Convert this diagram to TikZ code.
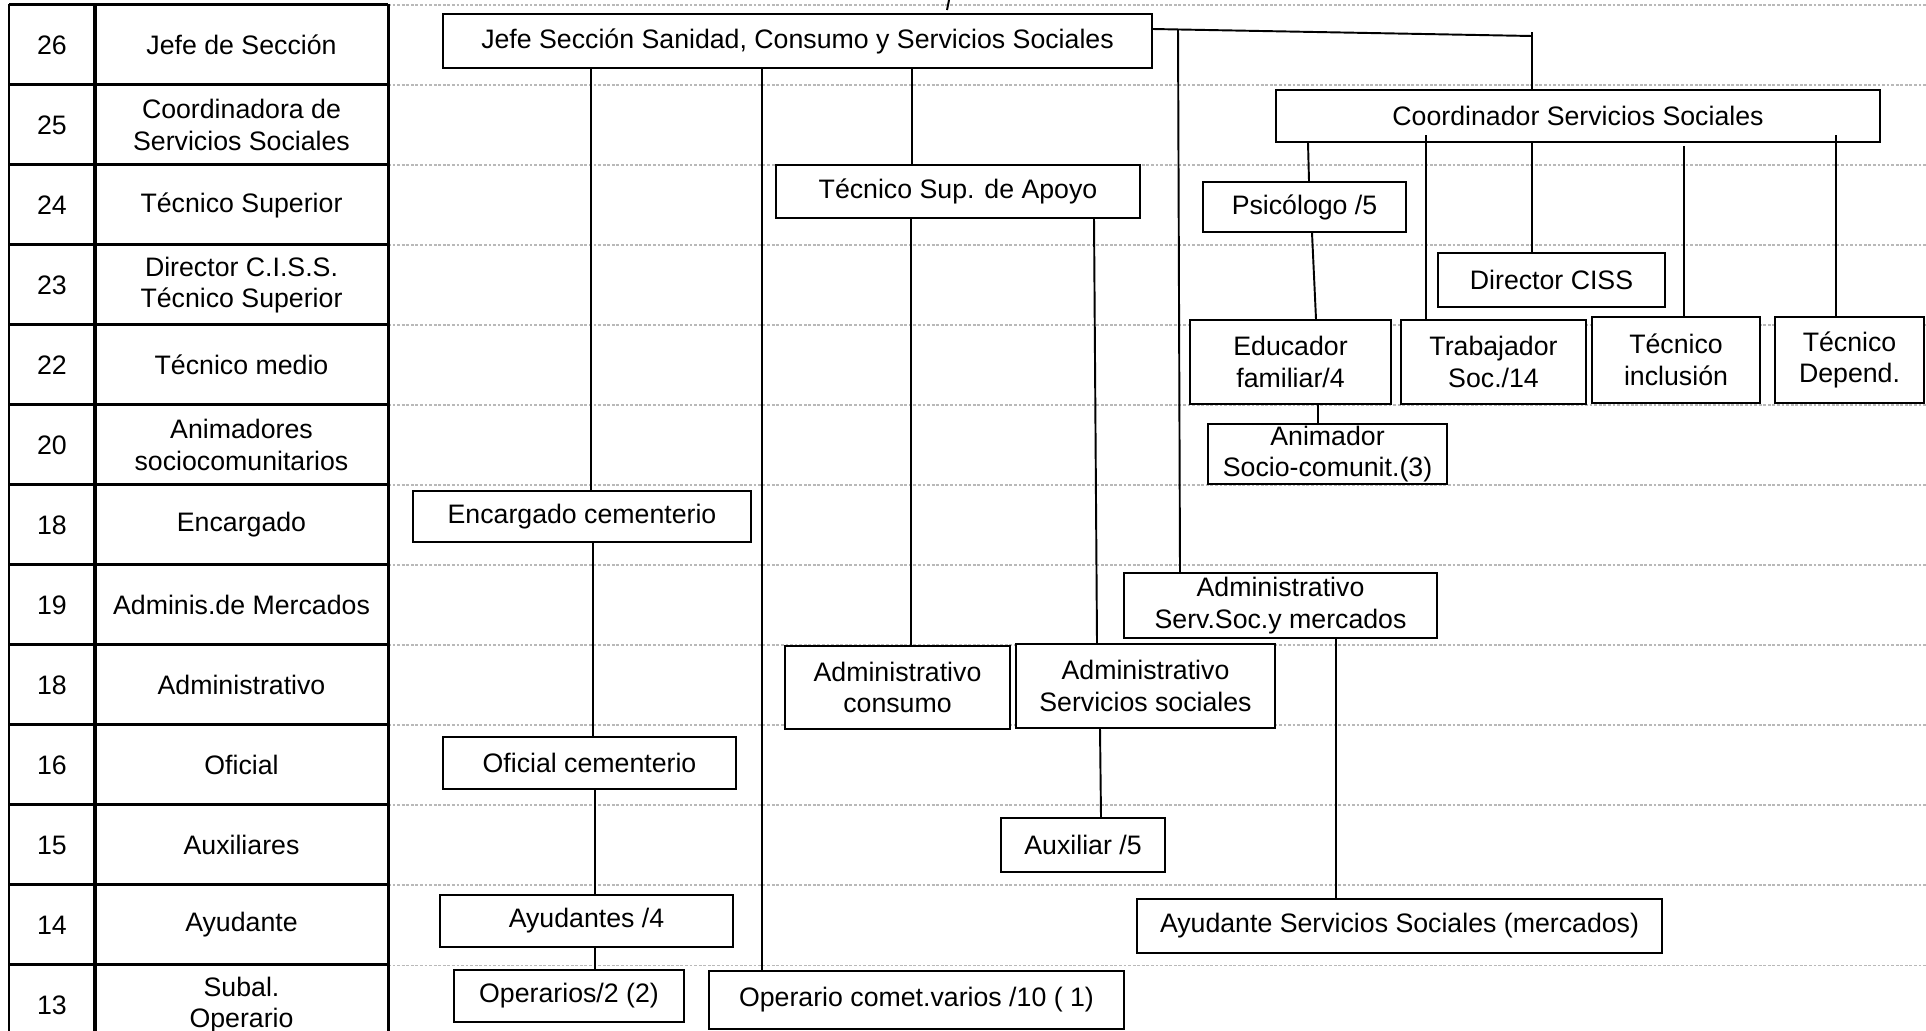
\documentclass[tikz,border=0pt]{standalone}
\usepackage{fontspec}
\setmainfont{Liberation Sans}
\begin{document}
\begin{tikzpicture}[yscale=-1,
  font=\fontsize{7.6}{9.0}\selectfont,
  box/.style={draw, fill=white, line width=0.55pt, inner sep=0pt, align=center},
  link/.style={line width=0.55pt},
  grid/.style={gray!55, line width=0.3pt, dash pattern=on 0.8pt off 0.5pt},
  tab/.style={line width=0.85pt}]
\useasboundingbox (0,0) rectangle (19.26,10.30);
\clip (0,0) rectangle (19.26,10.30);

% rejilla de niveles
\foreach \i in {0,...,12}{
\draw[grid] (3.88,0.05+0.8*\i)--(19.26,0.05+0.8*\i);
}

% tabla de niveles
\foreach \i in {0,...,13}{
\draw[tab] (0.09,0.04+0.8*\i)--(3.88,0.04+0.8*\i);
}
\draw[tab] (0.09,0.04)--(0.09,10.44);
\draw[tab,line width=1.3pt] (0.95,0.04)--(0.95,10.44);
\draw[tab] (3.88,0.04)--(3.88,10.44);
\foreach \n/\t [count=\i from 0] in {26/Jefe de Sección, 25/Coordinadora de\\Servicios Sociales,
  24/Técnico Superior, 23/Director C.I.S.S.\\Técnico Superior, 22/Técnico medio,
  20/Animadores\\sociocomunitarios, 18/Encargado, 19/Adminis.de Mercados,
  18/Administrativo, 16/Oficial, 15/Auxiliares, 14/Ayudante, 13/Subal.\\Operario}{
\node (num\i) at (0.52,0.45+0.8*\i) {\n};
\node[align=center] (cat\i) at (2.415,0.45+0.8*\i) {\t};
}

% puestos
\node[box, minimum width=7.09cm, minimum height=0.54cm] (jefe) at (7.975,0.41) {Jefe Sección Sanidad, Consumo y Servicios Sociales};
\node[box, minimum width=3.64cm, minimum height=0.53cm] (tsa) at (9.58,1.915) {Técnico Sup. de Apoyo};
\node[box, minimum width=6.04cm, minimum height=0.52cm] (coord) at (15.78,1.16) {Coordinador Servicios Sociales};
\node[box, minimum width=2.03cm, minimum height=0.50cm] (psi) at (13.045,2.07) {Psicólogo /5};
\node[box, minimum width=2.27cm, minimum height=0.54cm] (dir) at (15.515,2.80) {Director CISS};
\node[box, minimum width=2.01cm, minimum height=0.84cm] (edu) at (12.905,3.62) {Educador\\familiar/4};
\node[box, minimum width=1.85cm, minimum height=0.84cm] (trab) at (14.935,3.62) {Trabajador\\Soc./14};
\node[box, minimum width=1.68cm, minimum height=0.86cm] (tinc) at (16.76,3.60) {Técnico\\inclusión};
\node[box, minimum width=1.49cm, minimum height=0.86cm] (tdep) at (18.495,3.60) {Técnico\\Depend.};
\node[box, minimum width=2.39cm, minimum height=0.60cm] (anim) at (13.275,4.54) {Animador\\Socio-comunit.(3)};
\node[box, minimum width=3.38cm, minimum height=0.51cm] (enc) at (5.82,5.165) {Encargado cementerio};
\node[box, minimum width=3.13cm, minimum height=0.65cm] (asm) at (12.805,6.055) {Administrativo\\Serv.Soc.y mercados};
\node[box, minimum width=2.25cm, minimum height=0.83cm] (acons) at (8.975,6.875) {Administrativo\\consumo};
\node[box, minimum width=2.59cm, minimum height=0.84cm] (ass) at (11.455,6.86) {Administrativo\\Servicios sociales};
\node[box, minimum width=2.93cm, minimum height=0.52cm] (ofi) at (5.895,7.63) {Oficial cementerio};
\node[box, minimum width=1.64cm, minimum height=0.54cm] (aux) at (10.83,8.45) {Auxiliar /5};
\node[box, minimum width=2.93cm, minimum height=0.52cm] (ayu) at (5.865,9.21) {Ayudantes /4};
\node[box, minimum width=5.25cm, minimum height=0.54cm] (ayss) at (13.995,9.26) {Ayudante Servicios Sociales (mercados)};
\node[box, minimum width=2.30cm, minimum height=0.52cm] (oper) at (5.69,9.96) {Operarios/2 (2)};
\node[box, minimum width=4.15cm, minimum height=0.58cm] (opcv) at (9.165,10.00) {Operario comet.varios /10 ( 1)};

% enlaces
\coordinate (up) at (9.49,0);
\draw[link] (9.47,0.10)--(up);
\draw[link] (jefe.east |- 0,0.29)--(15.32,0.36);
\draw[link] (15.32,0.32)--(coord.north -| 15.32,0);
\draw[link] (11.78,0.29)--(asm.north -| 11.80,0);
\draw[link] (jefe.south -| 5.91,0)--(enc.north -| 5.91,0);
\draw[link] (enc.south -| 5.93,0)--(ofi.north -| 5.93,0);
\draw[link] (ofi.south -| 5.95,0)--(ayu.north -| 5.95,0);
\draw[link] (ayu.south -| 5.95,0)--(oper.north -| 5.95,0);
\draw[link] (jefe.south -| 7.62,0)--(opcv.north -| 7.62,0);
\draw[link] (jefe.south -| 9.12,0)--(tsa.north -| 9.12,0);
\draw[link] (tsa.south -| 9.11,0)--(acons.north -| 9.11,0);
\draw[link] (tsa.south -| 10.94,0)--(ass.north -| 10.97,0);
\draw[link] (ass.south -| 11.00,0)--(aux.north -| 11.01,0);
\draw[link] (asm.south -| 13.36,0)--(ayss.north -| 13.36,0);
\draw[link] (coord.south -| 13.08,0)--(psi.north -| 13.09,0);
\draw[link] (psi.south -| 13.12,0)--(edu.north -| 13.16,0);
\draw[link] (edu.south -| 13.18,0)--(anim.north -| 13.18,0);
\draw[link] (14.26,1.35)--(trab.north -| 14.26,0);
\draw[link] (coord.south -| 15.32,0)--(dir.north -| 15.32,0);
\draw[link] (16.84,1.46)--(tinc.north -| 16.84,0);
\draw[link] (18.36,1.35)--(tdep.north -| 18.36,0);
\end{tikzpicture}
\end{document}
